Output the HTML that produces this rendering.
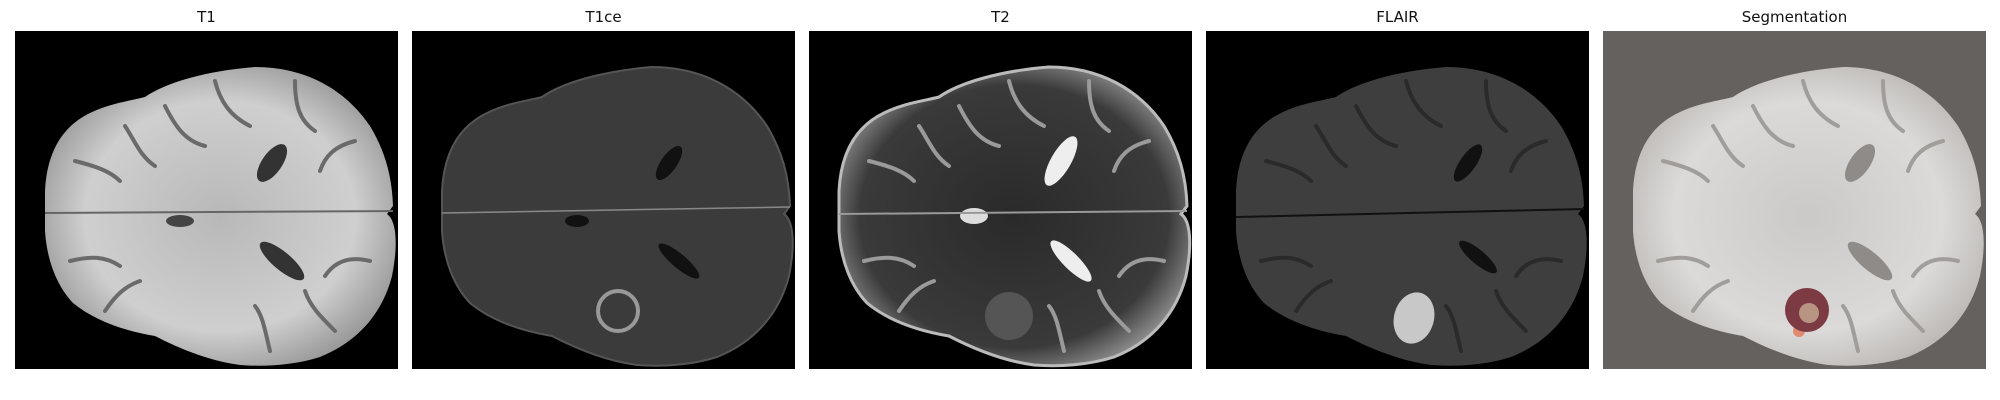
<!DOCTYPE html>
<html><head><meta charset="utf-8"><style>
html,body{margin:0;padding:0;background:#fff;}
svg{display:block;font-family:"DejaVu Sans","Liberation Sans",sans-serif;}
</style></head><body>
<svg width="2000" height="400" viewBox="0 0 2000 400">
<defs>
<path id="brain" d="M30,160 C32,120 48,95 75,82 C95,72 115,70 130,66 C150,52 190,40 240,36 C290,36 330,58 355,95 C370,120 377,145 378,175 L372,183 C382,190 383,215 377,245 C368,280 345,310 305,326 C280,334 250,336 225,334 C195,330 165,318 140,305 C110,300 80,290 58,272 C42,255 32,230 30,200 Z"/>
<g id="sulci" fill="none" stroke-width="4" stroke-linecap="round">
<path d="M150,75 C160,95 170,110 190,115"/>
<path d="M200,50 C205,70 215,85 235,95"/>
<path d="M280,50 C280,75 285,90 300,100"/>
<path d="M340,110 C320,115 310,125 305,140"/>
<path d="M355,230 C335,225 320,230 310,245"/>
<path d="M320,300 C305,285 295,275 290,260"/>
<path d="M255,320 C250,300 248,285 240,275"/>
<path d="M60,130 C80,135 95,140 105,150"/>
<path d="M55,230 C75,225 90,225 105,235"/>
<path d="M90,280 C100,265 110,255 125,250"/>
<path d="M110,95 C120,110 125,125 140,135"/>
</g>
<radialGradient id="t1g" cx="50%" cy="50%" r="55%"><stop offset="0" stop-color="#b8b8b8"/><stop offset="0.7" stop-color="#cfcfcf"/><stop offset="1" stop-color="#9a9a9a"/></radialGradient>
<radialGradient id="segg" cx="50%" cy="50%" r="55%"><stop offset="0" stop-color="#cbc9c7"/><stop offset="0.7" stop-color="#dcdad8"/><stop offset="1" stop-color="#bdbab8"/></radialGradient>
<radialGradient id="t2g" cx="50%" cy="50%" r="55%"><stop offset="0" stop-color="#2a2a2a"/><stop offset="0.8" stop-color="#3a3a3a"/><stop offset="1" stop-color="#8a8a8a"/></radialGradient>
</defs>
<g transform="translate(15,31)">
<rect width="383" height="338" fill="#000"/>
<use href="#brain" fill="url(#t1g)"/>
<use href="#sulci" stroke="#6a6a6a"/>
<ellipse cx="257" cy="132" rx="10" ry="22" transform="rotate(35 257 132)" fill="#333"/>
<ellipse cx="267" cy="230" rx="9" ry="28" transform="rotate(-50 267 230)" fill="#333"/>
<ellipse cx="165" cy="190" rx="14" ry="6" fill="#444"/>
<line x1="30" y1="182" x2="378" y2="180" stroke="#666" stroke-width="2"/>
</g>
<g transform="translate(412,31)">
<rect width="383" height="338" fill="#000"/>
<use href="#brain" fill="#3b3b3b" stroke="#555" stroke-width="2"/>
<ellipse cx="257" cy="132" rx="8" ry="20" transform="rotate(35 257 132)" fill="#111"/>
<ellipse cx="267" cy="230" rx="7" ry="26" transform="rotate(-50 267 230)" fill="#111"/>
<ellipse cx="165" cy="190" rx="12" ry="6" fill="#111"/>
<line x1="30" y1="182" x2="378" y2="176" stroke="#888" stroke-width="1.5"/>
<circle cx="206" cy="280" r="20" fill="none" stroke="#999" stroke-width="4"/>
</g>
<g transform="translate(809,31)">
<rect width="383" height="338" fill="#000"/>
<use href="#brain" fill="url(#t2g)" stroke="#bbb" stroke-width="3"/>
<use href="#sulci" stroke="#9a9a9a"/>
<ellipse cx="252" cy="130" rx="10" ry="28" transform="rotate(30 252 130)" fill="#eee"/>
<ellipse cx="262" cy="230" rx="8" ry="28" transform="rotate(-45 262 230)" fill="#eee"/>
<ellipse cx="165" cy="185" rx="14" ry="8" fill="#ddd"/>
<line x1="30" y1="183" x2="378" y2="180" stroke="#999" stroke-width="2"/>
<circle cx="200" cy="285" r="24" fill="#555"/>
</g>
<g transform="translate(1206,31)">
<rect width="383" height="338" fill="#000"/>
<use href="#brain" fill="#3e3e3e"/>
<use href="#sulci" stroke="#2a2a2a"/>
<ellipse cx="262" cy="132" rx="8" ry="22" transform="rotate(35 262 132)" fill="#111"/>
<ellipse cx="272" cy="226" rx="7" ry="24" transform="rotate(-50 272 226)" fill="#111"/>
<line x1="30" y1="186" x2="378" y2="178" stroke="#111" stroke-width="2"/>
<ellipse cx="208" cy="287" rx="20" ry="26" transform="rotate(15 208 287)" fill="#c8c8c8"/>
</g>
<g transform="translate(1603,31)">
<rect width="383" height="338" fill="#65615e"/>
<use href="#brain" fill="url(#segg)"/>
<use href="#sulci" stroke="#a09d9b"/>
<ellipse cx="257" cy="132" rx="10" ry="22" transform="rotate(35 257 132)" fill="#8e8b89"/>
<ellipse cx="267" cy="230" rx="9" ry="28" transform="rotate(-50 267 230)" fill="#8e8b89"/>
<circle cx="196" cy="300" r="6" fill="#e08a70"/>
<circle cx="204" cy="279" r="22" fill="#7c3a42"/>
<circle cx="206" cy="282" r="10" fill="#b89482"/>
</g>
<text x="206.5" y="22" text-anchor="middle" font-size="15" fill="#111">T1</text>
<text x="603.5" y="22" text-anchor="middle" font-size="15" fill="#111">T1ce</text>
<text x="1000.5" y="22" text-anchor="middle" font-size="15" fill="#111">T2</text>
<text x="1397.5" y="22" text-anchor="middle" font-size="15" fill="#111">FLAIR</text>
<text x="1794.5" y="22" text-anchor="middle" font-size="15" fill="#111">Segmentation</text>
</svg>
</body></html>
